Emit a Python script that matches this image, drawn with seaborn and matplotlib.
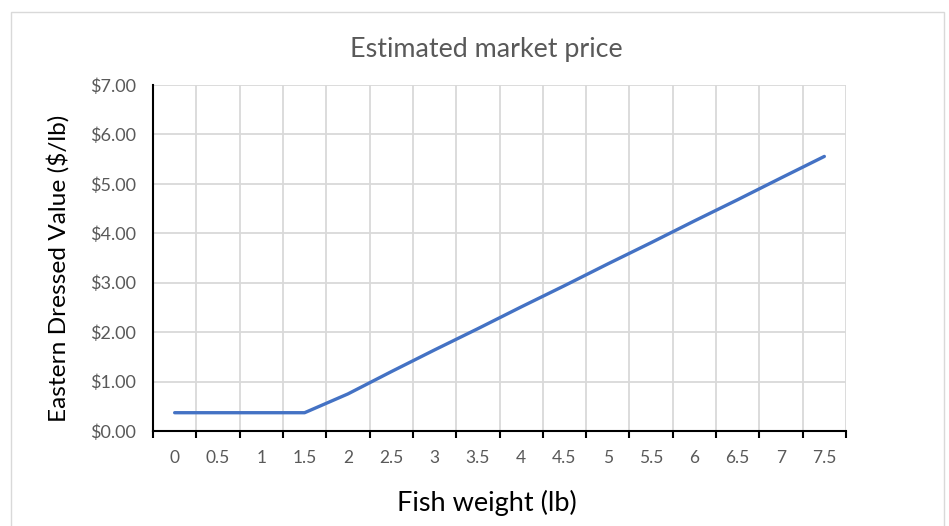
import numpy as np
import pandas as pd
import matplotlib
matplotlib.use("Agg")
import matplotlib.pyplot as plt
from matplotlib.patches import Rectangle
from matplotlib.ticker import FixedLocator, FuncFormatter
import seaborn as sns

# Estimated market price by fish weight
weights = [0, 0.5, 1, 1.5, 2, 2.5, 3, 3.5, 4, 4.5, 5, 5.5, 6, 6.5, 7, 7.5]
weight_labels = ["0", "0.5", "1", "1.5", "2", "2.5", "3", "3.5",
                 "4", "4.5", "5", "5.5", "6", "6.5", "7", "7.5"]
prices = [0.37, 0.37, 0.37, 0.37, 0.75, 1.20, 1.64, 2.07,
          2.51, 2.94, 3.38, 3.81, 4.25, 4.68, 5.12, 5.555]
price_ticks = [0, 1, 2, 3, 4, 5, 6, 7]

df = pd.DataFrame({"weight": weights, "price": prices})

sns.set_theme(style="white")
plt.rcParams["font.family"] = ["Lato", "DejaVu Sans"]

fig = plt.figure(figsize=(9.49, 5.26), dpi=100)
ax = fig.add_axes([153 / 949, 1 - 431 / 526, (846 - 153) / 949, (431 - 85) / 526])

# chart frame
fig.patches.append(Rectangle((11 / 949, -0.05), (944 - 11) / 949, 1 - 12 / 526 + 0.05,
                             transform=fig.transFigure, fill=False,
                             edgecolor="#d9d9d9", linewidth=1.0, zorder=0))

grid_c = "#d9d9d9"
text_c = "#595959"

sns.lineplot(data=df, x="weight", y="price", ax=ax, color="#4472C4",
             linewidth=2.4, zorder=3)
ax.set_xlabel("")
ax.set_ylabel("")

step = weights[1] - weights[0]
ax.set_xlim(weights[0] - step / 2, weights[-1] + step / 2)
ax.set_ylim(price_ticks[0], price_ticks[-1])

# category boundaries carry the gridlines and tick marks
bounds = [w - step / 2 for w in weights] + [weights[-1] + step / 2]
ax.xaxis.set_minor_locator(FixedLocator(bounds))
ax.set_xticks(weights)
ax.set_xticklabels(weight_labels)
ax.tick_params(axis="x", which="major", length=0, pad=14, labelsize=12.5,
               labelcolor=text_c)
ax.tick_params(axis="x", which="minor", length=5, width=1.5, color="black",
               direction="out", bottom=True)
ax.xaxis.grid(True, which="minor", color=grid_c, linewidth=1.3)
ax.xaxis.grid(False, which="major")

ax.set_yticks(price_ticks)
ax.yaxis.set_major_formatter(FuncFormatter(lambda v, p: f"${v:.2f}"))
ax.tick_params(axis="y", length=0, pad=12, labelsize=13, labelcolor=text_c)
ax.yaxis.grid(True, color=grid_c, linewidth=1.3)
ax.set_axisbelow(True)

for side in ["top", "right"]:
    ax.spines[side].set_visible(False)
for side in ["left", "bottom"]:
    ax.spines[side].set_visible(True)
    ax.spines[side].set_color("black")
    ax.spines[side].set_linewidth(1.5)
    ax.spines[side].set_zorder(4)

fig.text(487 / 949, 1 - 503 / 526, "Fish weight (lb)", ha="center", va="center",
         fontsize=19.5, color="black")
fig.text(58 / 949, 1 - 268 / 526, "Eastern Dressed Value ($/lb)", ha="center",
         va="center", rotation=90, fontsize=17.6, color="black")
fig.text(486 / 949, 1 - 50 / 526, "Estimated market price", ha="center", va="center",
         fontsize=19.4, color=text_c)

fig.savefig("out.png", dpi=100)
